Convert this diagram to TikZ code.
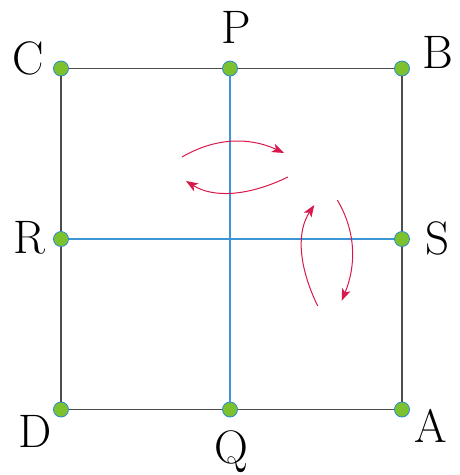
\documentclass[tikz,border=0pt]{standalone}
\usetikzlibrary{arrows.meta}
\definecolor{dotgreen}{HTML}{7DC12E}
\definecolor{dotblue}{HTML}{2A8AD0}
\definecolor{edgegrey}{HTML}{4D4D4D}
\definecolor{midblue}{HTML}{3D95D5}
\definecolor{arrred}{HTML}{D9194B}
\begin{document}
\begin{tikzpicture}[x=1pt,y=-1pt,
  dot/.style={circle,minimum size=15pt,inner sep=0pt,fill=dotgreen,draw=dotblue,line width=0.8pt},
  lbl/.style={anchor=base,inner sep=0pt,font=\fontsize{47}{50}\selectfont},
  edge/.style={draw=edgegrey,line width=1.1pt},
  mid/.style={draw=midblue,line width=1.5pt},
  rot/.style={draw=arrred,line width=1pt,-{Stealth[length=12pt,width=9pt,inset=3pt]}}]
\useasboundingbox (0,0) rectangle (460,475);
% dots
\node[dot] (C) at (61,68.5) {};
\node[dot] (P) at (230,68.5) {};
\node[dot] (B) at (402,68.5) {};
\node[dot] (R) at (61,239) {};
\node[dot] (S) at (402,239) {};
\node[dot] (D) at (61,409.5) {};
\node[dot] (Q) at (230,409.5) {};
\node[dot] (A) at (402,409.5) {};
% edges
\draw[edge] (C) -- (P);
\draw[edge] (P) -- (B);
\draw[edge] (B) -- (S);
\draw[edge] (S) -- (A);
\draw[edge] (A) -- (Q);
\draw[edge] (Q) -- (D);
\draw[edge] (D) -- (R);
\draw[edge] (R) -- (C);
\draw[mid] (P) -- (Q);
\draw[mid] (R) -- (S);
% labels
\node[lbl] (lC) at (28,74) {C};
\node[lbl] (lP) at (236,43) {P};
\node[lbl] (lB) at (438,68) {B};
\node[lbl] (lR) at (29,253) {R};
\node[lbl] (lS) at (438,254) {S};
\node[lbl] (lD) at (35,447) {D};
\node[lbl] (lQ) at (231,463) {Q};
\node[lbl] (lA) at (431,442) {A};
% rotation arrows
\coordinate (t1) at (182,157); \coordinate (t2) at (284,153);
\coordinate (b1) at (288,177); \coordinate (b2) at (186,181);
\coordinate (l1) at (317.7,306); \coordinate (l2) at (314.3,205);
\coordinate (r1) at (337.3,200); \coordinate (r2) at (341.7,300.7);
\draw[rot] (t1) .. controls (214.7,137.9) and (248.7,136.6) .. (t2);
\draw[rot] (b1) .. controls (247.3,196.6) and (213.3,197.9) .. (b2);
\draw[rot] (l1) .. controls (297.9,265) and (296.8,231.3) .. (l2);
\draw[rot] (r1) .. controls (355.4,230.4) and (356.9,264) .. (r2);
\end{tikzpicture}
\end{document}
